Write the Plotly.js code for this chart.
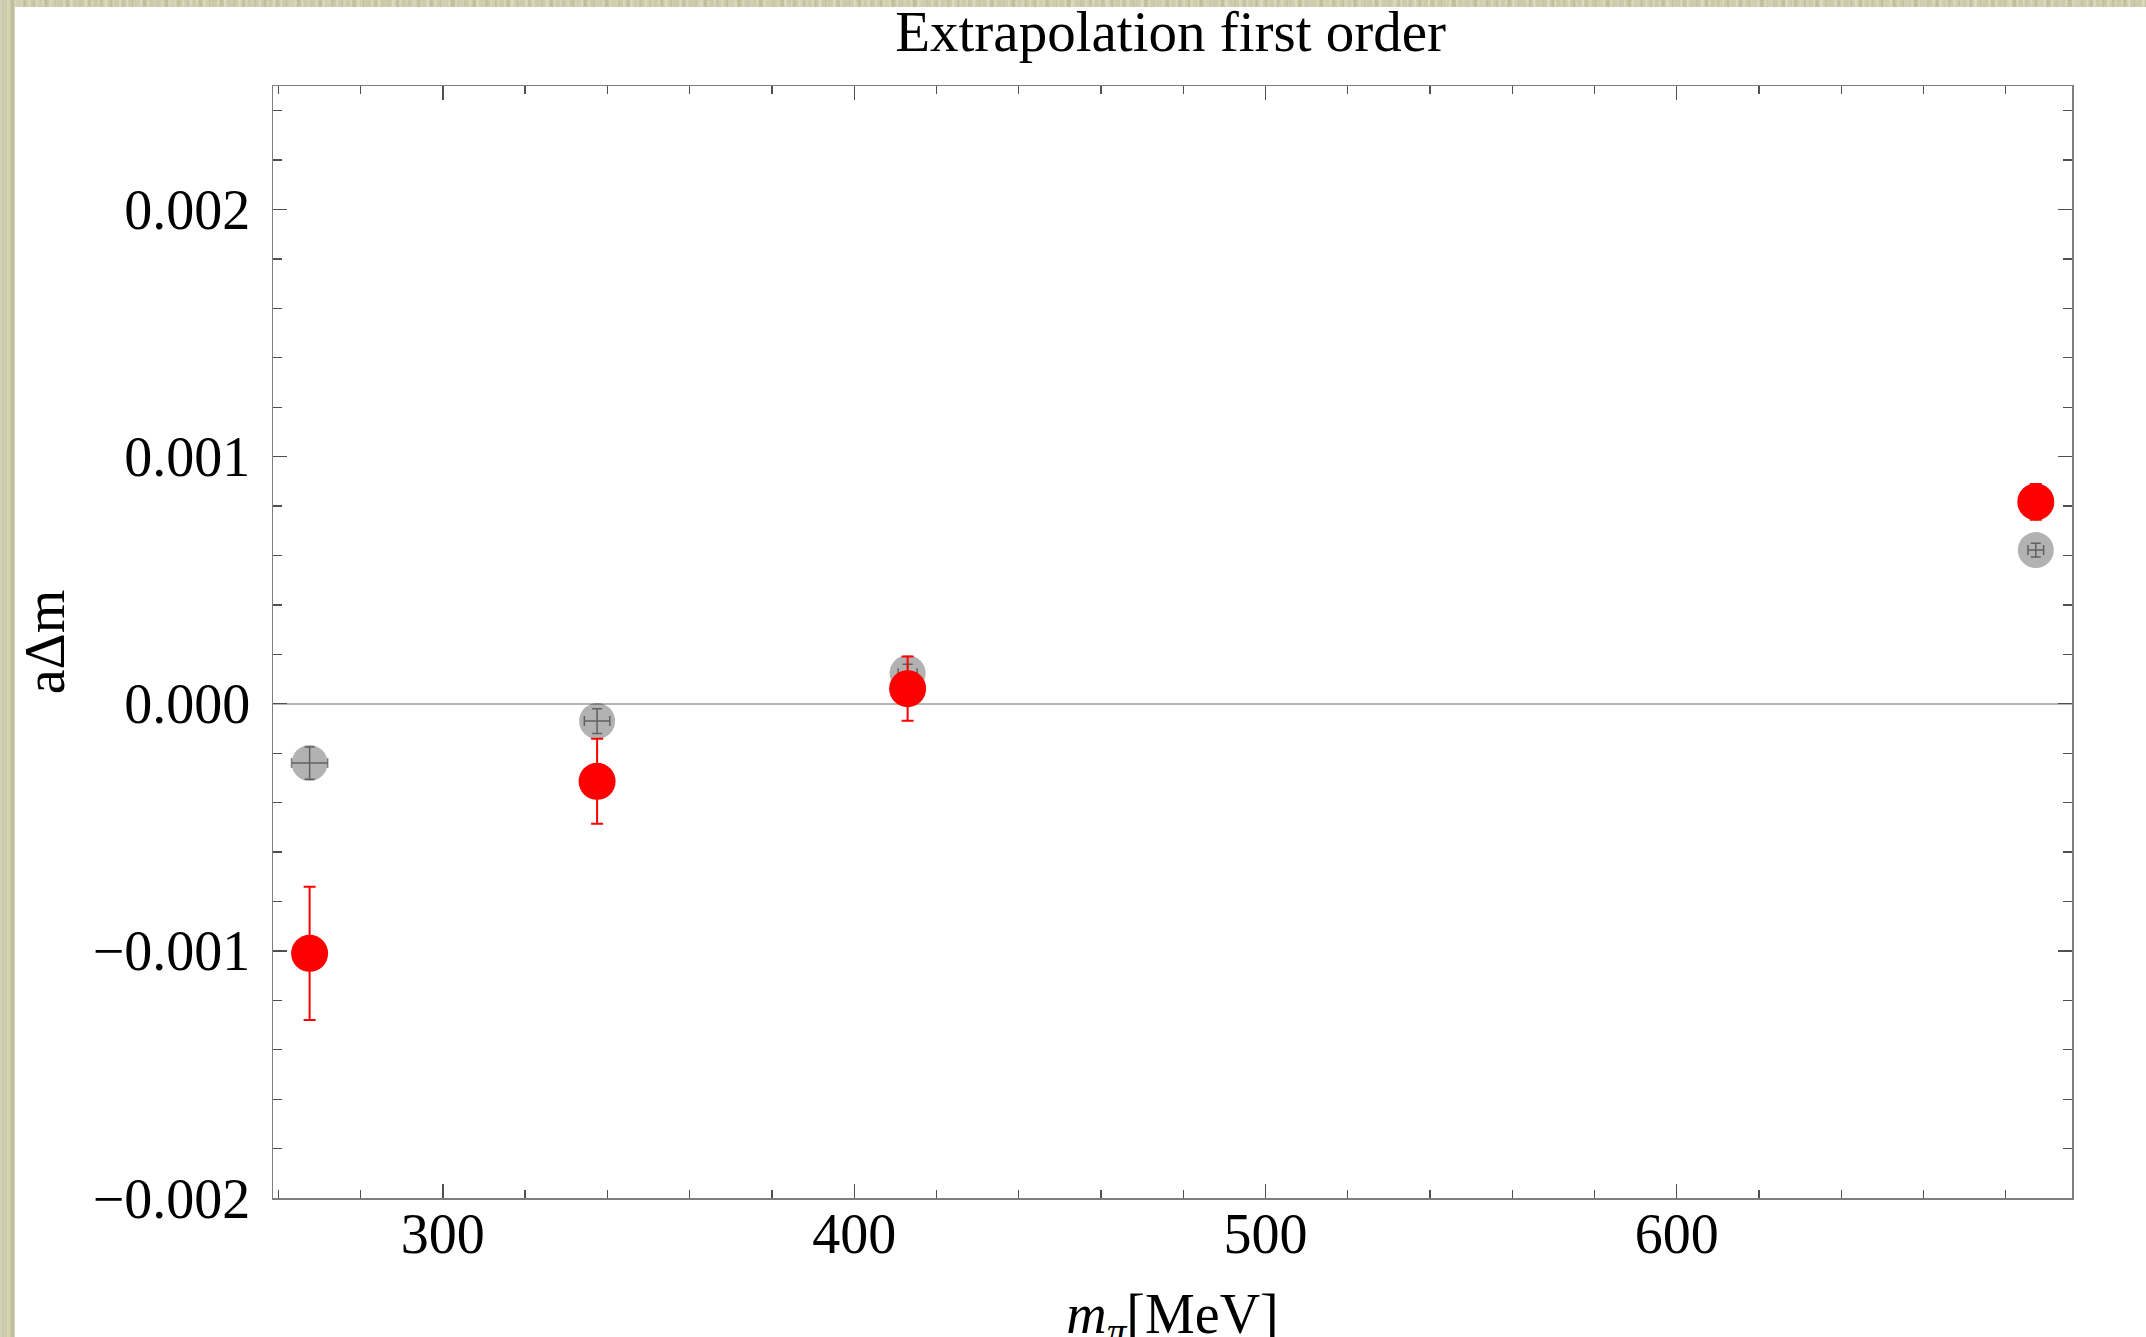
<!DOCTYPE html>
<html>
<head>
<meta charset="utf-8">
<script src="https://cdn.plot.ly/plotly-3.0.1.min.js"></script>
<style>
  html, body { margin: 0; padding: 0; width: 2146px; height: 1337px; overflow: hidden; }
  #bg {
    position: absolute; left: 0; top: 0; width: 2146px; height: 1337px;
    background-color: #cdcaa9;
    background-image:
      repeating-linear-gradient(90deg, rgba(255,255,240,0.22) 0px, rgba(255,255,240,0.22) 2px, rgba(255,255,240,0) 3px, rgba(255,255,240,0) 7px),
      repeating-linear-gradient(90deg, rgba(110,110,80,0.12) 0px, rgba(110,110,80,0.12) 3px, rgba(110,110,80,0) 4px, rgba(110,110,80,0) 11px),
      repeating-linear-gradient(90deg, rgba(255,255,245,0.10) 0px, rgba(255,255,245,0.10) 5px, rgba(255,255,245,0) 6px, rgba(255,255,245,0) 17px);
  }
  #sheet { position: absolute; left: 15px; top: 7px; right: 0; bottom: 0; background: #ffffff; }
  #chart { position: absolute; left: 0; top: 0; width: 2146px; height: 1400px; }
</style>
</head>
<body>
<div id="bg"></div>
<div id="sheet"></div>
<div id="chart"></div>
<script>
// Pion masses (MeV)
const mPi = [267.6, 337.5, 413.0, 687.3];

// First-order extrapolation (red)
const extrapValues = [-0.00101, -0.000314, 0.000061, 0.000817];
const extrapErrors = [0.00027, 0.000172, 0.00013, 0.000072];

// Measured values (gray)
const measuredValues = [-0.00024, -0.00007, 0.000124, 0.000622];
const measuredErrY = [0.000065, 0.00005, 0.000036, 0.000028];
const measuredErrX = [4.4, 3.1, 2.3, 1.9];

// Axis ticks
const yTickVals = [-0.002, -0.001, 0.0, 0.001, 0.002];
const yTickText = ['\u22120.002', '\u22120.001', '0.000', '0.001', '0.002'];
const xTickVals = [300, 400, 500, 600];
const xTickText = ['300', '400', '500', '600'];

const serif = 'Liberation Serif, Times New Roman, serif';
const figHeight = 1400;

const traces = [
  {
    x: mPi, y: measuredValues, type: 'scatter', mode: 'markers',
    marker: { size: 36, color: 'rgba(0,0,0,0.30)', line: { width: 0 } },
    error_y: { type: 'data', array: measuredErrY, visible: true, color: '#8a8a8a', thickness: 1.5, width: 5 },
    error_x: { type: 'data', array: measuredErrX, visible: true, color: '#8a8a8a', thickness: 1.5, width: 5 },
    showlegend: false, hoverinfo: 'x+y'
  },
  {
    x: mPi, y: extrapValues, type: 'scatter', mode: 'markers',
    marker: { size: 37, color: '#ff0000', line: { width: 0 } },
    error_y: { type: 'data', array: extrapErrors, visible: true, color: '#ff0000', thickness: 2, width: 6 },
    showlegend: false, hoverinfo: 'x+y'
  }
];

const axisCommon = {
  showline: true, linecolor: '#7f7f7f', linewidth: 1.5,
  mirror: 'allticks', ticks: 'inside', ticklen: 14, tickwidth: 1.3, tickcolor: '#505050',
  showgrid: false, zeroline: false,
  tickfont: { family: serif, size: 56, color: '#000000' }
};

const layout = {
  width: 2146, height: figHeight,
  paper_bgcolor: 'rgba(0,0,0,0)', plot_bgcolor: 'rgba(0,0,0,0)',
  margin: { l: 273, r: 74, t: 86, b: figHeight - 1198, pad: 0 },
  title: {
    text: 'Extrapolation first order',
    font: { family: serif, size: 57, color: '#000000' },
    x: 0.5455, xanchor: 'center', xref: 'container',
    y: 1 - 31 / figHeight, yanchor: 'middle', yref: 'container'
  },
  xaxis: Object.assign({}, axisCommon, {
    range: [258.7, 696.1],
    ticklabelstandoff: -14,
    tickmode: 'array', tickvals: xTickVals, ticktext: xTickText,
    minor: { tickmode: 'linear', tick0: 0, dtick: 20, ticklen: 8, tickwidth: 1.3, tickcolor: '#505050', ticks: 'inside' },
    title: { text: '<i>m</i><sub><i>\u03c0</i></sub>[MeV]', font: { family: serif, size: 56, color: '#000000' }, standoff: 30 }
  }),
  yaxis: Object.assign({}, axisCommon, {
    range: [-0.002, 0.0025],
    ticklabelstandoff: 10,
    tickmode: 'array', tickvals: yTickVals, ticktext: yTickText,
    zeroline: true, zerolinecolor: '#b5b5b5', zerolinewidth: 1.5,
    minor: { tickmode: 'linear', tick0: 0, dtick: 0.0002, ticklen: 9, tickwidth: 1.3, tickcolor: '#505050', ticks: 'inside' },
    title: { text: 'a\u0394m', font: { family: serif, size: 56, color: '#000000' }, standoff: 10 }
  })
};

Plotly.newPlot('chart', traces, layout, { displayModeBar: false, staticPlot: true });
</script>
</body>
</html>
